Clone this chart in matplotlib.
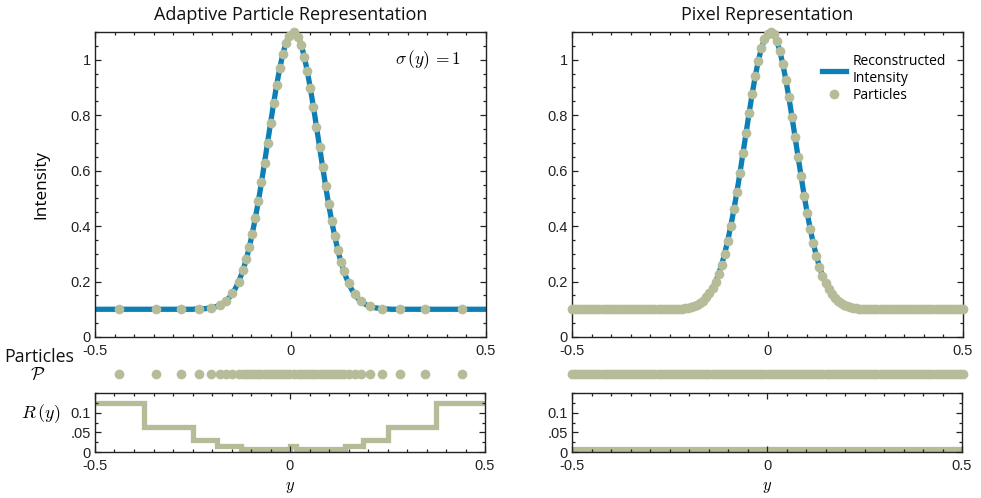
import numpy as np
import matplotlib
matplotlib.use('Agg')
import matplotlib.pyplot as plt
from matplotlib.ticker import MultipleLocator, FixedLocator, FixedFormatter
from matplotlib.lines import Line2D

plt.rcParams['font.family'] = ['Liberation Sans', 'DejaVu Sans']
plt.rcParams['mathtext.fontset'] = 'cm'

BLUE = '#0B7FB6'
SAGE = '#B5BC97'
LABEL_FONT = ['Open Sans', 'DejaVu Sans']

# --- pixel representation: 129 pixels on [-0.5, 0.5], spacing 1/128 ---
pixel_y = np.linspace(-0.5, 0.5, 129)
pixel_intensity = [
    0.100, 0.100, 0.100, 0.100, 0.100, 0.100, 0.100, 0.100, 0.100, 0.100, 0.100, 0.100,
    0.100, 0.100, 0.100, 0.100, 0.100, 0.100, 0.100, 0.100, 0.100, 0.100, 0.100, 0.100,
    0.100, 0.100, 0.100, 0.100, 0.100, 0.100, 0.100, 0.100,
    0.100, 0.101, 0.101, 0.102, 0.102, 0.104, 0.105, 0.108, 0.111, 0.116, 0.123, 0.131,
    0.143, 0.157, 0.176, 0.199, 0.227, 0.261, 0.301, 0.348, 0.401, 0.460, 0.524, 0.593,
    0.665, 0.737, 0.809, 0.878, 0.941, 0.996, 1.041, 1.074,
    1.094,
    1.100, 1.091, 1.069, 1.033, 0.985, 0.928, 0.864, 0.795, 0.722, 0.650, 0.579, 0.510,
    0.447, 0.389, 0.338, 0.292, 0.254, 0.221, 0.194, 0.172, 0.154, 0.140, 0.129, 0.121,
    0.115, 0.111, 0.107, 0.105, 0.103, 0.102, 0.101, 0.101,
    0.100, 0.100, 0.100, 0.100, 0.100, 0.100, 0.100, 0.100, 0.100, 0.100, 0.100, 0.100,
    0.100, 0.100, 0.100, 0.100, 0.100, 0.100, 0.100, 0.100, 0.100, 0.100, 0.100, 0.100,
    0.100, 0.100, 0.100, 0.100, 0.100, 0.100, 0.100, 0.100,
]
pixel_R_edges = [-0.5, 0.5]
pixel_R = [0.0078]

# --- adaptive particle representation ---
particle_y = [
    -0.4375, -0.3438, -0.2813, -0.2344, -0.2031,
    -0.1797, -0.1641, -0.1484, -0.1328,
    -0.1211, -0.1133, -0.1055, -0.0977, -0.0898, -0.0820, -0.0742, -0.0664,
    -0.0586, -0.0508, -0.0430, -0.0352, -0.0273, -0.0195, -0.0117, -0.0039,
    0.0078,
    0.0195, 0.0273, 0.0352, 0.0430, 0.0508, 0.0586, 0.0664, 0.0742,
    0.0820, 0.0898, 0.0977, 0.1055, 0.1133, 0.1211, 0.1289, 0.1367,
    0.1484, 0.1641, 0.1797,
    0.2031, 0.2344, 0.2813, 0.3438, 0.4375,
]
particle_intensity = [
    0.100, 0.100, 0.100, 0.101, 0.105,
    0.116, 0.131, 0.157, 0.199,
    0.243, 0.280, 0.324, 0.373, 0.430, 0.492, 0.558, 0.629,
    0.701, 0.773, 0.844, 0.910, 0.970, 1.020, 1.059, 1.086,
    1.100,
    1.082, 1.052, 1.010, 0.958, 0.897, 0.830, 0.759, 0.686,
    0.614, 0.544, 0.478, 0.417, 0.363, 0.314, 0.272, 0.237,
    0.194, 0.154, 0.129,
    0.111, 0.102, 0.100, 0.100, 0.100,
]
R_edges = [-0.5, -0.375, -0.25, -0.1875, -0.125, 0.0, 0.0156, 0.1406, 0.1875, 0.25, 0.375, 0.5]
R_values = [0.125, 0.0625, 0.0313, 0.0156, 0.0078, 0.0156, 0.0078, 0.0156, 0.0313, 0.0625, 0.125]

W, H = 981, 498
fig = plt.figure(figsize=(W / 100, H / 100), dpi=100)


def box(x0, x1, ytop, ybot):
    return [x0 / W, 1 - ybot / H, (x1 - x0) / W, (ybot - ytop) / H]


def style(ax, ymajor, yminor, ylim, ylabels):
    ax.set_xlim(-0.5, 0.5)
    ax.set_ylim(*ylim)
    ax.xaxis.set_major_locator(FixedLocator([-0.5, 0, 0.5]))
    ax.xaxis.set_major_formatter(FixedFormatter(['-0.5', '0', '0.5']))
    ax.xaxis.set_minor_locator(MultipleLocator(0.05))
    ax.yaxis.set_major_locator(FixedLocator(ymajor))
    ax.yaxis.set_major_formatter(FixedFormatter(ylabels))
    ax.yaxis.set_minor_locator(MultipleLocator(yminor))
    ax.tick_params(which='both', direction='in', top=True, right=True,
                   labelsize=10.5, width=0.9, colors='#222222')
    ax.tick_params(axis='x', which='both', pad=5)
    ax.tick_params(axis='y', which='both', pad=3)
    ax.tick_params(which='major', length=4.5)
    ax.tick_params(which='minor', length=2.5)
    for sp in ax.spines.values():
        sp.set_linewidth(1.0)
        sp.set_color('#222222')


top_ticks = [0, 0.2, 0.4, 0.6, 0.8, 1.0]
top_labels = ['0', '0.2', '0.4', '0.6', '0.8', '1']
bot_ticks = [0, 0.05, 0.1]
bot_labels = ['0', '.05', '0.1']

panels = [
    dict(x0=95, x1=486, title='Adaptive Particle Representation',
         py=particle_y, pi=particle_intensity, edges=R_edges, R=R_values),
    dict(x0=572, x1=963, title='Pixel Representation',
         py=pixel_y, pi=pixel_intensity, edges=pixel_R_edges, R=pixel_R),
]

axes_top = []
for p in panels:
    ax = fig.add_axes(box(p['x0'], p['x1'], 32, 337))
    ax.plot(pixel_y, pixel_intensity, color=BLUE, lw=3.8, solid_capstyle='butt',
            label='Reconstructed\nIntensity', zorder=2)
    ax.plot(p['py'], p['pi'], 'o', color=SAGE, ms=7, mec='none',
            label='Particles', zorder=3, clip_on=False)
    style(ax, top_ticks, 0.05, (0, 1.1), top_labels)
    ax.set_title(p['title'], fontsize=13, family=LABEL_FONT, pad=9, color='#111111')
    axes_top.append(ax)

    # particle locations row
    axp = fig.add_axes(box(p['x0'], p['x1'], 362, 386))
    axp.plot(p['py'], np.zeros(len(p['py'])), 'o', color=SAGE, ms=7, mec='none',
             clip_on=False)
    axp.set_xlim(-0.5, 0.5)
    axp.set_ylim(-1, 1)
    axp.axis('off')

    # resolution function R(y)
    axr = fig.add_axes(box(p['x0'], p['x1'] - 1, 393, 452))
    axr.stairs(p['R'], p['edges'], baseline=None, color=SAGE, lw=3.8)
    style(axr, bot_ticks, 0.025, (0, 0.15), bot_labels)
    axr.set_xlabel(r'$y$', fontsize=12, labelpad=5)

axes_top[0].set_ylabel('Intensity', fontsize=12.3, family=LABEL_FONT, labelpad=15)
axes_top[0].text(0.435, 1.0, r'$\sigma\,(y)\,{=}1$', fontsize=12.5, ha='right', va='center')

handles = [Line2D([], [], color=BLUE, lw=3.8),
           Line2D([], [], ls='none', marker='o', color=SAGE, ms=7, mec='none')]
axes_top[1].legend(handles, ['Reconstructed\nIntensity', 'Particles'],
                   loc='upper left', bbox_to_anchor=(0.615, 0.96), frameon=False,
                   prop={'family': LABEL_FONT, 'size': 10}, handlelength=1.7,
                   handletextpad=0.5, labelspacing=0.15, borderpad=0.2)

fig.text(39 / W, 1 - 357 / H, 'Particles', fontsize=12.8, family=LABEL_FONT,
         ha='center', va='center', color='#111111')
fig.text(38 / W, 1 - 375 / H, r'$\mathcal{P}$', fontsize=13, ha='center', va='center')
fig.text(41 / W, 1 - 414 / H, r'$R\,(y)$', fontsize=13, ha='center', va='center')

fig.savefig('out.png', dpi=100)
